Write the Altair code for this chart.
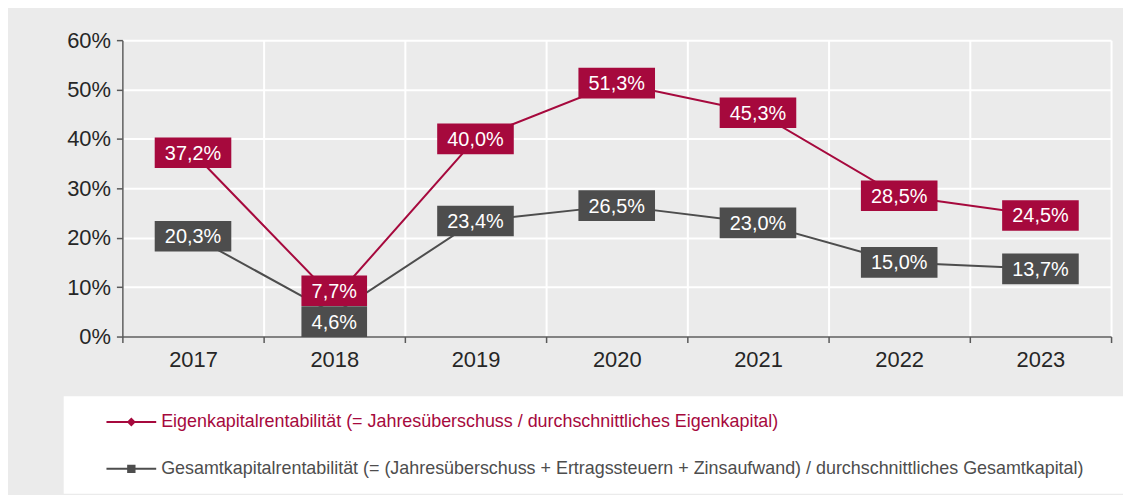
import altair as alt
import pandas as pd

years = ["2017", "2018", "2019", "2020", "2021", "2022", "2023"]
ekr = [37.2, 7.7, 40.0, 51.3, 45.3, 28.5, 24.5]
gkr = [20.3, 4.6, 23.4, 26.5, 23.0, 15.0, 13.7]
series = [
    "Eigenkapitalrentabilität (= Jahresüberschuss / durchschnittliches Eigenkapital)",
    "Gesamtkapitalrentabilität (= (Jahresüberschuss + Ertragssteuern + Zinsaufwand) / durchschnittliches Gesamtkapital)",
]
y_ticks = [0, 10, 20, 30, 40, 50, 60]

RED = "#A6093D"
GRAY = "#4D4D4D"
BG = "#EBEBEB"
FONT = "Liberation Sans"

W, H = 994, 298
Y_MAX = 60
BOX_H = 31  # label box height in px, used to separate colliding labels

rows = []
px_per_unit = H / Y_MAX
for i, yr in enumerate(years):
    a, b = ekr[i], gkr[i]
    diff_px = abs(a - b) * px_per_unit
    shift = 0.0
    if diff_px < BOX_H:
        shift = (BOX_H - diff_px) / 2 / px_per_unit
    for k, (s, v, ly) in enumerate(((series[0], a, a + shift), (series[1], b, b - shift))):
        lab = f"{v:.1f}".replace(".", ",") + "%"
        rows.append({"year": yr, "series": s, "ser": k, "value": v, "label_y": ly,
                     "label": lab, "len": len(lab)})
df = pd.DataFrame(rows)

color_scale = alt.Scale(domain=series, range=[RED, GRAY])
ser_scale = alt.Scale(domain=[0, 1], range=[RED, GRAY])

x_axis = alt.Axis(
    tickBand="extent", grid=True, gridColor="white", gridWidth=2,
    domainColor="#595959", domainWidth=1.5, tickColor="#595959", tickWidth=1.5,
    tickSize=6, labelFontSize=22, labelFont=FONT, labelColor="#262626",
    labelPadding=7, labelAngle=0, title=None,
)
y_axis = alt.Axis(
    values=y_ticks, labelExpr="datum.value + '%'", grid=True, gridColor="white",
    gridWidth=2, domainColor="#595959", domainWidth=1.5, tickColor="#595959",
    tickWidth=1.5, tickSize=6, labelFontSize=22, labelFont=FONT,
    labelColor="#262626", labelPadding=6, title=None,
)
x_enc = alt.X("year:N", sort=years,
              scale=alt.Scale(type="band", paddingInner=0, paddingOuter=0),
              axis=x_axis)
y_scale = alt.Scale(domain=[0, Y_MAX], nice=False, zero=True)

lines = alt.Chart(df).mark_line(strokeWidth=2).encode(
    x=x_enc,
    y=alt.Y("value:Q", scale=y_scale, axis=y_axis),
    stroke=alt.Stroke("ser:N", scale=ser_scale, legend=None),
)

# legend-only layer (invisible points carry the legend); filled paths: bar + marker
LEG_DIAMOND = "M-2.5,-0.1H2.5V0.1H-2.5ZM0,-0.45L0.45,0L0,0.45L-0.45,0Z"
LEG_SQUARE = "M-2.5,-0.1H2.5V0.1H-2.5ZM-0.42,-0.42H0.42V0.42H-0.42Z"
col_expr = f"indexof(datum.label, 'Eigen') === 0 ? '{RED}' : '{GRAY}'"
legend = alt.Legend(
    orient="none", legendX=-59, legendY=358, fillColor="white", padding=16,
    symbolOffset=42, labelOffset=20, rowPadding=28, labelFontSize=18,
    labelFont=FONT, labelLimit=1500, symbolSize=400, symbolStrokeWidth=0,
    symbolOpacity=1, direction="vertical",
    title=" ", titleOrient="right", titlePadding=23, titleFontSize=18,
    labelColor={"expr": col_expr},
)
legend_pts = alt.Chart(df).mark_point(opacity=0, filled=True).encode(
    x=x_enc,
    y=alt.Y("value:Q", scale=y_scale, axis=y_axis),
    color=alt.Color("series:N", scale=color_scale, legend=legend),
    shape=alt.Shape("series:N", scale=alt.Scale(domain=series, range=[LEG_DIAMOND, LEG_SQUARE]),
                    legend=legend),
)

RECT4 = "M-0.857,-0.40H0.857V0.40H-0.857Z"
RECT5 = "M-1,-0.40H1V0.40H-1Z"


def box_layer(n, path):
    return alt.Chart(df).transform_filter(f"datum.len == {n}").mark_point(
        filled=True, opacity=1, size=77 * 77, shape=path, strokeWidth=0
    ).encode(
        x=x_enc,
        y=alt.Y("label_y:Q", scale=y_scale, axis=y_axis),
        fill=alt.Fill("ser:N", scale=ser_scale, legend=None),
    )


boxes5 = box_layer(5, RECT5)
boxes4 = box_layer(4, RECT4)
texts = alt.Chart(df).mark_text(color="white", fontSize=20, font=FONT, baseline="middle",
                                align="center", dy=1).encode(
    x=x_enc,
    y=alt.Y("label_y:Q", scale=y_scale, axis=y_axis),
    text="label:N",
)

chart = alt.layer(lines, legend_pts, boxes5, boxes4, texts).properties(
    width=W, height=H, background=BG,
    autosize=alt.AutoSizeParams(type="none"),
    padding={"left": 115, "top": 31, "right": 12, "bottom": 158},
).configure_view(stroke=None)

chart.save("out.html", embed_options={"renderer": "svg", "actions": False})
